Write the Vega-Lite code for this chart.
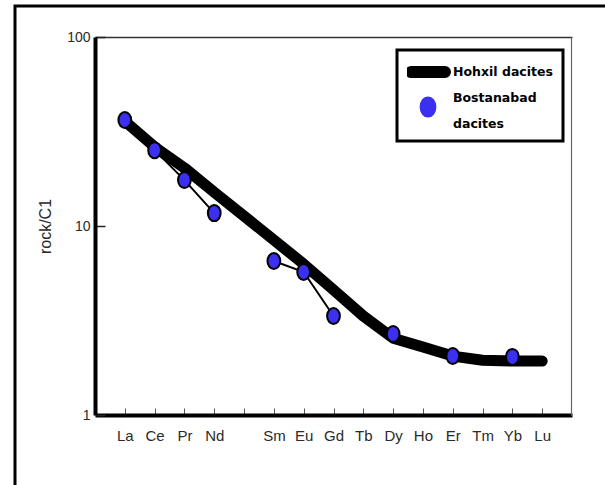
{
  "$schema": "https://vega.github.io/schema/vega-lite/v6.json",
  "width": 592,
  "height": 481,
  "autosize": {"type": "none"},
  "padding": {"left": 15, "top": 6, "right": 0, "bottom": 0},
  "background": "white",
  "config": {
    "view": {"stroke": "black", "strokeWidth": 3},
    "font": "Liberation Sans"
  },
  "data": {
    "values": [
      {"el": "La", "series": "Hohxil dacites", "v": 35.9, "seg": "H"},
      {"el": "Ce", "series": "Hohxil dacites", "v": 26.2, "seg": "H"},
      {"el": "Pr", "series": "Hohxil dacites", "v": 20.3, "seg": "H"},
      {"el": "Nd", "series": "Hohxil dacites", "v": 15.1, "seg": "H"},
      {"el": "Sm", "series": "Hohxil dacites", "v": 8.43, "seg": "H"},
      {"el": "Eu", "series": "Hohxil dacites", "v": 6.29, "seg": "H"},
      {"el": "Gd", "series": "Hohxil dacites", "v": 4.59, "seg": "H"},
      {"el": "Tb", "series": "Hohxil dacites", "v": 3.34, "seg": "H"},
      {"el": "Dy", "series": "Hohxil dacites", "v": 2.55, "seg": "H"},
      {"el": "Ho", "series": "Hohxil dacites", "v": 2.29, "seg": "H"},
      {"el": "Er", "series": "Hohxil dacites", "v": 2.05, "seg": "H"},
      {"el": "Tm", "series": "Hohxil dacites", "v": 1.95, "seg": "H"},
      {"el": "Yb", "series": "Hohxil dacites", "v": 1.93, "seg": "H"},
      {"el": "Lu", "series": "Hohxil dacites", "v": 1.93, "seg": "H"},
      {"el": "La", "series": "Bostanabad dacites", "v": 36.4, "seg": "A"},
      {"el": "Ce", "series": "Bostanabad dacites", "v": 25.2, "seg": "A"},
      {"el": "Pr", "series": "Bostanabad dacites", "v": 17.5, "seg": "A"},
      {"el": "Nd", "series": "Bostanabad dacites", "v": 11.7, "seg": "A"},
      {"el": "Sm", "series": "Bostanabad dacites", "v": 6.53, "seg": "B"},
      {"el": "Eu", "series": "Bostanabad dacites", "v": 5.71, "seg": "B"},
      {"el": "Gd", "series": "Bostanabad dacites", "v": 3.34, "seg": "B"},
      {"el": "Dy", "series": "Bostanabad dacites", "v": 2.68, "seg": "C"},
      {"el": "Er", "series": "Bostanabad dacites", "v": 2.05, "seg": "C"},
      {"el": "Yb", "series": "Bostanabad dacites", "v": 2.03, "seg": "C"}
    ]
  },
  "resolve": {"axis": {"x": "independent", "y": "independent"}},
  "layer": [
    {
      "transform": [{"filter": "datum.series === 'Bostanabad dacites'"}],
      "mark": {"type": "line", "stroke": "black", "strokeWidth": 2},
      "encoding": {
        "x": {
          "field": "el", "type": "ordinal", "sort": null,
          "scale": {"type": "point", "domain": ["La","Ce","Pr","Nd","Pm","Sm","Eu","Gd","Tb","Dy","Ho","Er","Tm","Yb","Lu"], "range": [80, 557], "padding": 1},
          "axis": {
            "orient": "bottom", "offset": -72, "title": null,
            "domainColor": "black", "domainWidth": 4,
            "ticks": true, "tickSize": -7, "tickColor": "#555", "tickWidth": 1,
            "labelAngle": 0, "labelFontSize": 15, "labelColor": "#2a2a2a", "labelPadding": 20,
            "labelExpr": "datum.value === 'Pm' ? '' : datum.value"
          }
        },
        "y": {
          "field": "v", "type": "quantitative",
          "scale": {"type": "log", "domain": [1, 100], "range": [409, 31], "nice": false},
          "axis": {
            "orient": "left", "offset": -80, "title": "rock/C1",
            "values": [1, 10, 100], "format": "d",
            "domainColor": "black", "domainWidth": 4,
            "tickSize": -10, "tickColor": "#222", "tickWidth": 1.5,
            "labelFontSize": 14, "labelColor": "#2a2a2a", "labelPadding": 15,
            "titleFontSize": 16, "titleFontWeight": "normal", "titleColor": "#2a2a2a", "titlePadding": 13,
            "grid": false
          }
        },
        "detail": {"field": "seg"}
      }
    },
    {
      "transform": [{"filter": "datum.series === 'Hohxil dacites'"}],
      "mark": {"type": "line", "strokeWidth": 11, "strokeCap": "round", "strokeJoin": "round"},
      "encoding": {
        "x": {
          "field": "el", "type": "ordinal", "sort": null,
          "axis": {"orient": "top", "offset": -31, "title": null, "domainColor": "#333", "domainWidth": 1.5, "ticks": false, "labels": false}
        },
        "y": {
          "field": "v", "type": "quantitative",
          "axis": {"orient": "right", "offset": -36, "title": null, "domainColor": "#666", "domainWidth": 1.2, "ticks": false, "labels": false, "grid": false}
        },
        "color": {
          "field": "series", "type": "nominal",
          "scale": {"domain": ["Hohxil dacites", "Bostanabad dacites"], "range": ["black", "#3b30f0"]},
          "legend": {
            "title": null, "orient": "none", "legendX": 382, "legendY": 44,
            "fillColor": "white", "strokeColor": "black",
            "padding": 10, "symbolOffset": 0,
            "labelOffset": 4, "clipHeight": 24, "rowPadding": 8,
            "labelFont": "DejaVu Sans", "labelFontWeight": "bold", "labelFontSize": 12.5, "labelColor": "black", "labelLimit": 0,
            "labelExpr": "datum.value === 'Bostanabad dacites' ? ['Bostanabad', 'dacites'] : datum.value",
            "encode": {
              "legend": {"update": {"strokeWidth": {"value": 3}}},
              "labels": {"update": {
                "lineHeight": {"value": 26},
                "dy": {"signal": "datum.value === 'Bostanabad dacites' ? -9 : 0"}
              }},
              "symbols": {"update": {
                "shape": {"signal": "datum.value === 'Hohxil dacites' ? 'M-0.85,-0.25L0.85,-0.25A0.25,0.25,0,0,1,0.85,0.25L-0.85,0.25A0.25,0.25,0,0,1,-0.85,-0.25Z' : 'M0,-0.48A0.37,0.48,0,1,1,0,0.48A0.37,0.48,0,1,1,0,-0.48Z'"},
                "size": {"value": 1600},
                "strokeWidth": {"value": 2},
                "stroke": {"value": "black"},
                "fill": {"signal": "datum.value === 'Hohxil dacites' ? 'black' : '#3b30f0'"},
                "opacity": {"value": 1}
              }}
            }
          }
        }
      }
    },
    {
      "transform": [{"filter": "datum.series === 'Bostanabad dacites'"}],
      "mark": {"type": "point", "filled": true, "shape": "M0,-1A0.8,1,0,1,1,0,1A0.8,1,0,1,1,0,-1Z", "size": 256, "stroke": "black", "strokeWidth": 2, "opacity": 1},
      "encoding": {
        "x": {"field": "el", "type": "ordinal", "sort": null, "axis": null},
        "y": {"field": "v", "type": "quantitative", "axis": null},
        "color": {"field": "series", "type": "nominal"}
      }
    }
  ]
}
